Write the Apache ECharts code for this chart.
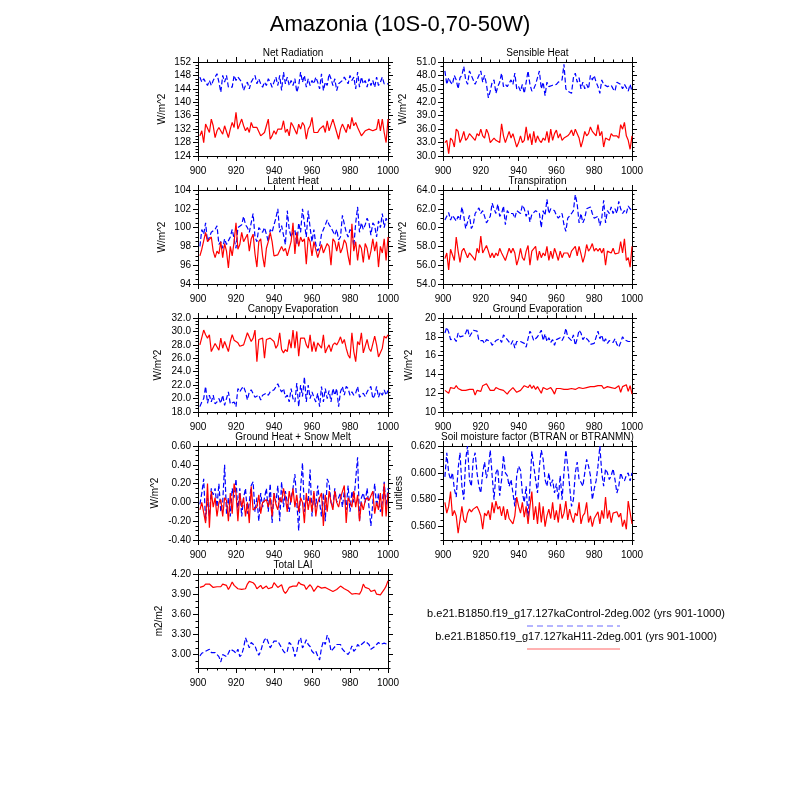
<!DOCTYPE html>
<html>
<head>
<meta charset="utf-8">
<title>Amazonia (10S-0,70-50W)</title>
<script src="https://cdn.jsdelivr.net/npm/echarts@6/dist/echarts.min.js"></script>
<style>
html, body { margin: 0; padding: 0; background: #fff; }
#main { width: 800px; height: 800px; }
</style>
</head>
<body>
<div id="main"></div>
<script>
// years 901-1000, x axis of every panel
var years = [];
for (var y = 901; y <= 1000; y++) years.push(y);

// Net Radiation (W/m^2)
var netRadH11 = [
  130, 131.5, 128, 133.5, 133, 131, 135, 133, 129.5, 131.5,
  132.5, 132, 130.5, 133, 132.5, 129.5, 132, 134, 132.5, 137,
  132, 132.5, 135, 133, 131.5, 132.5, 131, 134, 132.5, 133,
  132.5, 133, 130, 130.5, 131, 133, 135, 129, 130, 131.5,
  130.5, 132, 131.5, 132, 134.5, 131, 132, 130, 134, 133,
  133.5, 130.5, 133.5, 132, 134, 133, 129, 132, 133, 135.5,
  131, 131.5, 131, 132, 131.5, 133, 131, 134.5, 131.5, 131,
  135, 135, 131, 129, 132, 133.5, 134, 131, 133.5, 132,
  135.5, 133, 134, 132.5, 132, 130, 130.5, 131.5, 132, 132,
  132, 131.5, 131.5, 132, 135, 131.5, 135, 131, 128, 135
];
var netRadCtl = [
  147.5, 146, 147, 146, 145, 146.5, 145, 146.5, 147, 148.5,
  146, 143, 148, 146, 148, 144.5, 145, 144.5, 148, 146.5,
  147.5, 147, 146, 143.5, 145, 146, 144, 146, 147, 148,
  145.5, 147, 145.5, 144.5, 146, 145, 147, 146, 144.5, 146,
  147.5, 145, 148, 143.5, 149, 145.5, 147.5, 145, 146.5, 145,
  147, 143, 145, 149, 146, 148, 144.5, 147, 145, 146.5,
  145.5, 147.5, 146, 144, 148.5, 143.5, 146, 145, 148.5, 147,
  145, 147, 143.5, 145.5, 146, 146.5, 147.5, 146.5, 145.5, 148,
  146.5, 147.5, 144, 149, 144.5, 147.5, 145.5, 146.5, 144.5, 147,
  145, 146.5, 144.5, 147.5, 145, 146, 147.5, 145.5, 146, 145.5
];

// Sensible Heat (W/m^2)
var sensH11 = [
  33, 33.5, 30.5, 34, 33.5, 32, 36, 35.5, 33, 34,
  35.5, 33.5, 34, 35, 34.5, 34, 33.5, 35, 34.5, 36,
  34.5, 34, 36, 35, 33, 33.5, 34, 33.5, 33.8, 33,
  37.2, 34.5, 33, 32.8, 35.5, 34, 35, 33.5, 32, 33,
  34.5, 33, 33.5, 36.5, 33.5, 35, 32.5, 35.5, 33, 34.5,
  33.5, 33, 34, 33.5, 35.5, 33, 36, 33.5, 35, 35.8,
  34, 35, 33.5, 34, 34, 34.5, 35, 35.8, 34.5, 36,
  36, 34, 32, 33.5, 35.5, 34.5, 35, 36.5, 35.5, 35.5,
  34.5, 37, 34.5, 35.5, 32, 34, 34, 33.5, 35, 34.5,
  34.5, 34.5, 34, 37, 36, 37.5, 34.5, 33.5, 31.5, 34.5
];
var sensCtl = [
  49, 46, 47.5, 46.5, 46, 48, 47, 45, 47.5, 48,
  50, 47, 46, 49, 48, 47, 46, 46, 48, 49,
  46.5, 48, 46, 43, 44.5, 46.5, 47, 44, 45.5, 46.5,
  48.5, 45.5, 46, 45.5, 45.5, 47, 46, 48.5, 45, 45.5,
  44.5, 46, 44, 46.5, 49, 46, 44.5, 45, 46, 47.5,
  49, 45, 46.5, 43.5, 46.5, 45.5, 45.5, 45.8, 46, 46,
  46.5, 46.5, 47, 50.5, 45, 44.5, 44.5, 44, 47.5, 48.5,
  46.5, 47.5, 45, 46.5, 45, 46, 45, 48, 47, 48,
  46.5, 45.5, 44, 47, 46, 46, 45.5, 45.5, 45.8, 45,
  44.5, 46.5, 46.5, 46, 45, 46, 46, 44.5, 46, 44.5
];

// Latent Heat (W/m^2)
var latH11 = [
  97, 97.7, 97.8, 99.5, 98.5, 98.5, 99, 97.5, 96.8, 97.5,
  97.2, 98.5, 96.8, 98.3, 97.5, 95.7, 98, 97, 98.5, 100.5,
  97.7, 98.2, 99.5, 98.5, 98.7, 99.3, 97.5, 98.8, 99.3, 97.2,
  95.8, 98.5, 98.8, 97, 95.8, 97.8, 98.5, 99.5, 98.5, 97,
  97.2, 97.1, 97, 98, 97.5, 97.8, 97, 97.2, 98.5, 100.5,
  97.2, 99.5, 98, 99, 98.5, 98.8, 96.1, 99, 98.5, 97,
  98.5, 98.3, 96.8, 97.5, 98.2, 97.3, 97.8, 98.3, 98, 96,
  98.8, 98.5, 97.5, 98.5, 97.3, 97.8, 98.7, 98.3, 97, 96,
  100.4, 97.5, 98.5, 96.5, 98.2, 97.8, 96.3, 98.3, 97.8, 96.6,
  97.5, 98.8, 97.5, 98.5, 95.8, 98, 97.3, 98.8, 96.5, 99
];
var latCtl = [
  98, 99.8, 99.3, 100.5, 98.5, 98.7, 99.5, 99.5, 99.8, 100.2,
  98.2, 98.5, 97.8, 98.8, 98.2, 98.2, 99, 99.8, 98.8, 97.8,
  100, 99.8, 100.3, 101.2, 100.3, 100, 99.5, 100.5, 101.5, 99,
  98.5, 100, 99.8, 99.5, 100, 99.3, 98.5, 99.8, 99.5, 100.3,
  101, 102, 99.5, 100.2, 100, 98.2, 101.8, 99.8, 99, 99.5,
  99.8, 98.2, 100.5, 99.5, 102, 101.8, 99, 101.8, 100, 98.5,
  99.8, 98.2, 97.5, 98, 99.3, 99.5, 100.3, 100.8, 100.3, 100,
  99.8, 99.2, 99.8, 98.7, 99, 101.3, 101.5, 99.5, 99, 99.8,
  99.5, 98, 100.5, 102.2, 99.5, 100.5, 99.8, 100.3, 101, 100.5,
  99.2, 100.5, 100.2, 99, 100.7, 100, 101.5, 100, 101, 100.5
];

// Transpiration (W/m^2)
var trH11 = [
  56.7, 57.3, 55.5, 57.7, 57.5, 56.5, 59, 57.5, 56.3, 57.5,
  57.8, 57.3, 56.8, 57.3, 57.5, 56.8, 56.5, 57.8, 57.3, 59.1,
  57.3, 57.5, 58.1, 57.5, 56.8, 57.3, 56.8, 57.3, 57, 57.8,
  57.3, 57.5, 56.5, 56.5, 57.8, 57.3, 57.8, 57.3, 56, 56.7,
  57.8, 56.8, 56.5, 57.5, 58.1, 56, 57.5, 57.3, 58, 56.5,
  57.5, 56.8, 57.3, 57, 58, 56.5, 57.5, 56.7, 57.8, 57.2,
  56.5, 57.5, 56.8, 57.3, 57.2, 57.3, 56.8, 57.5, 57.3, 58,
  57, 58, 57.2, 56.3, 57, 58.2, 57.5, 57.8, 58.3, 57.5,
  57.8, 57.5, 57.8, 57.3, 57.8, 56, 57.5, 57.3, 57.3, 57.8,
  57.2, 57.3, 57.3, 58.5, 57.3, 58.8, 56.5, 56.8, 55.8, 58
];
var trCtl = [
  60.8, 61.2, 61.6, 60.8, 61.3, 61, 60.7, 61.2, 60.8, 62.2,
  61.2, 59.9, 60, 61.3, 59.9, 60.3, 61.5, 61.3, 62.1, 61.5,
  61.8, 61.2, 60.5, 60.7, 61.2, 62.6, 62, 61.5, 62.5, 61.2,
  61.5, 62.3, 60.3, 61.8, 61.5, 61.3, 61.5, 61, 61.8, 62,
  61.5, 62.4, 62, 61.2, 61.8, 60.6, 61.4, 61.6, 61.8, 61.8,
  61.5, 60, 61.8, 61.3, 63, 61.5, 62, 62.2, 61.8, 61.3,
  61, 60.8, 61.5, 60.3, 59.6, 61, 60.8, 61.5, 61.8, 63.5,
  62.5, 60.5, 61.5, 60.5, 61, 62, 61.8, 62.2, 61.5, 61,
  60.8, 61.2, 60.2, 61, 62.9, 60.5, 61.8, 61.5, 62.2, 61.5,
  62, 61.5, 62.8, 62, 61.5, 61.8, 61.5, 62.3, 62, 61.8
];

// Canopy Evaporation (W/m^2)
var canH11 = [
  28, 28, 30.2, 29.5, 29, 29.5, 27, 26.8, 28.2, 28,
  27.2, 29, 27.5, 28.5, 28.3, 27, 28.5, 29.5, 28.7, 28.5,
  28.3, 27.8, 28, 28, 28.2, 29.8, 29.8, 28.5, 29, 30.2,
  25.5, 28.8, 28.8, 29, 26, 28.8, 29, 29, 28.8, 28.5,
  27.5, 28, 29.8, 27.3, 26.8, 27.3, 27, 28.8, 27.5, 30.2,
  27.5, 30, 26.3, 29, 28.8, 29, 28, 27.5, 29.5, 27,
  28.5, 27, 28.3, 28.5, 27.5, 29.5, 26.8, 27.5, 28, 27,
  28, 28.3, 28, 28.5, 29.2, 28.2, 28.8, 27.5, 26.5, 26,
  29.8, 27, 25.5, 28.5, 28, 29.8, 26.8, 27.8, 28.8, 27.5,
  27, 27, 29.3, 28, 26.2, 26.2, 27.5, 29.3, 29, 29.5
];
var canCtl = [
  18.8, 19.5, 20, 21.8, 19.3, 20.5, 19.5, 20.5, 19.2, 19.5,
  20, 19.3, 20.5, 19, 20, 21, 19.2, 19.3, 19.5, 18.8,
  21.5, 21, 21.5, 21.8, 21, 19.8, 21, 21.3, 21.5, 20.2,
  20.3, 20.5, 19.8, 20.5, 20.3, 20.8, 20.5, 21, 20.8, 21.3,
  21.5, 22.2, 21.5, 21, 21.5, 20.2, 20.5, 19.5, 21.5, 20,
  19.5, 22.3, 18.8, 22, 20.3, 23.2, 19.5, 22, 20, 21,
  20.2, 19.5, 20.8, 18.8, 21.8, 19.5, 21.5, 20, 21.2, 19.5,
  21.5, 20.5, 21.5, 18.8, 21, 21.8, 20.5, 21.8, 21.5, 20.5,
  21, 20.5, 20.8, 21.8, 20.2, 20.5, 20.8, 20.3, 21, 21.5,
  21.8, 20, 20.5, 21.8, 20.2, 21, 20.5, 21.3, 20.5, 21.2
];

// Ground Evaporation (W/m^2)
var geH11 = [
  12.3, 12.5, 12.0, 12.6, 12.4, 12.5, 12.8, 12.5, 12.4, 12.3,
  12.2, 12.3, 12.3, 12.4, 12.3, 12.4, 11.8, 12.3, 12.5, 12.2,
  12.8, 12.6, 13.0, 12.9, 12.3, 12.4, 12.3, 12.6, 12.4, 12.4,
  12.6, 12.3, 12.4, 11.9, 12.2, 12.4, 12.6, 12.4, 12.1, 12.1,
  12.3, 12.1, 12.8, 12.6, 12.6, 12.9, 12.5, 12.8, 12.4, 12.7,
  12.5, 12.0, 12.6, 12.5, 12.4, 12.5, 12.6, 12.3, 11.9, 12.5,
  12.3, 12.5, 12.5, 12.4, 12.5, 12.4, 12.3, 12.5, 12.7, 12.4,
  12.5, 12.6, 12.8, 12.5, 12.7, 12.6, 12.5, 12.7, 12.6, 12.7,
  12.6, 12.8, 12.7, 12.8, 12.5, 12.4, 12.7, 12.5, 12.6, 12.5,
  12.5, 12.6, 12.8, 12.1, 12.7, 12.5, 12.9, 12.2, 12.8, 11.9
];
var geCtl = [
  18.4, 19.0, 18.5, 17.7, 17.9, 17.8, 17.5, 18.4, 18.0, 18.2,
  18.1, 18.4, 18.9, 18.0, 17.8, 18.7, 18.5, 18.6, 17.6, 17.5,
  17.6, 17.3, 17.7, 17.9, 17.5, 17.1, 17.3, 17.6, 17.5, 17.8,
  17.4, 18.2, 18.0, 17.7, 17.5, 17.2, 17.6, 16.8, 17.5, 17.3,
  17.5, 17.4, 17.3, 16.9, 17.8, 18.6, 18.2, 17.6, 17.4, 18.0,
  17.8, 18.7, 17.6, 18.3, 17.5, 17.9, 17.4, 17.7, 17.1, 17.7,
  17.5, 17.9, 17.6, 18.0, 18.9, 18.0, 17.9, 17.6, 18.2, 17.1,
  17.8, 18.7, 18.4, 17.7, 18.0, 17.8, 17.6, 17.2, 17.4, 17.3,
  17.5, 18.6, 17.8, 18.2, 17.4, 17.8, 17.3, 17.6, 17.7, 17.4,
  17.8, 17.2, 16.9, 17.4, 18.0, 17.7, 17.9, 17.5, 17.7, 17.5
];

// Ground Heat + Snow Melt (W/m^2)
var ghH11 = [
  -0.08, 0.0, -0.02, -0.22, 0.2, -0.27, 0.12, -0.05, 0.05, -0.15,
  0.0, 0.03, -0.15, 0.05, 0.02, -0.2, 0.1, -0.12, 0.2, 0.1,
  -0.2, 0.1, -0.05, 0.05, -0.15, 0.0, -0.22, 0.17, -0.08, -0.1,
  -0.05, 0.08, -0.12, 0.0, 0.0, 0.03, -0.05, 0.05, -0.15, 0.1,
  -0.02, -0.08, 0.05, 0.0, 0.15, 0.05, -0.1, 0.12, 0.0, 0.15,
  -0.05, 0.08, -0.1, 0.05, 0.0, -0.22, 0.1, -0.08, 0.05, -0.1,
  0.12, -0.15, 0.0, 0.05, 0.1, -0.25, 0.08, -0.1, 0.12, 0.0,
  -0.08, 0.12, 0.0, -0.05, 0.05, 0.05, 0.18, -0.22, 0.05, 0.0,
  -0.05, 0.12, -0.05, 0.08, -0.2, 0.0, -0.08, 0.02, 0.05, 0.02,
  0.0, 0.12, -0.12, 0.0, -0.08, 0.1, -0.15, 0.2, -0.15, 0.1
];
var ghCtl = [
  -0.02, 0.1, 0.25, -0.2, 0.05, -0.15, 0.15, 0.08, 0.15, -0.05,
  0.2, -0.1, 0.0, 0.4, -0.12, 0.05, -0.15, 0.15, 0.05, 0.25,
  -0.1, 0.15, -0.15, 0.05, 0.15, -0.12, 0.0, 0.18, 0.22, -0.1,
  0.05, -0.2, 0.1, -0.05, 0.05, 0.15, -0.1, 0.2, -0.22, 0.1,
  0.0, 0.18, -0.2, 0.22, -0.05, 0.12, 0.0, -0.1, 0.05, 0.15,
  0.3, 0.0, -0.3, 0.15, 0.42, -0.1, 0.05, 0.0, 0.35, -0.15,
  0.1, -0.05, 0.18, 0.0, -0.15, 0.1, -0.2, 0.25, 0.2, 0.0,
  -0.05, 0.15, 0.0, 0.05, 0.1, -0.05, 0.12, -0.08, 0.18, -0.1,
  0.12, 0.0, 0.25, 0.48, -0.2, 0.05, 0.1, 0.0, 0.15, -0.05,
  -0.25, 0.0, 0.2, -0.05, 0.1, -0.1, 0.0, 0.22, -0.05, 0.15
];

// Soil moisture factor (unitless)
var smH11 = [
  0.578, 0.570, 0.575, 0.586, 0.568, 0.572, 0.568, 0.555, 0.565, 0.575,
  0.565, 0.563, 0.570, 0.573, 0.571, 0.573, 0.572, 0.575, 0.572, 0.568,
  0.558, 0.570, 0.568, 0.572, 0.565, 0.578, 0.570, 0.579, 0.573, 0.575,
  0.568, 0.575, 0.565, 0.573, 0.566, 0.567, 0.562, 0.568, 0.582, 0.575,
  0.570, 0.578, 0.567, 0.575, 0.562, 0.575, 0.586, 0.565, 0.575, 0.562,
  0.578, 0.563, 0.575, 0.560, 0.568, 0.573, 0.566, 0.578, 0.565, 0.572,
  0.563, 0.577, 0.566, 0.570, 0.579, 0.565, 0.573, 0.567, 0.563, 0.570,
  0.568, 0.578, 0.562, 0.568, 0.570, 0.578, 0.563, 0.568, 0.560, 0.566,
  0.567, 0.571, 0.562, 0.572, 0.566, 0.582, 0.566, 0.572, 0.563, 0.570,
  0.570, 0.571, 0.567, 0.570, 0.560, 0.565, 0.558, 0.579, 0.578, 0.562
];
var smCtl = [
  0.597, 0.615, 0.600, 0.595, 0.600, 0.588, 0.582, 0.603, 0.615, 0.590,
  0.580, 0.610, 0.620, 0.595, 0.590, 0.610, 0.615, 0.600, 0.590, 0.585,
  0.600, 0.608, 0.596, 0.603, 0.617, 0.598, 0.580, 0.600, 0.603, 0.583,
  0.595, 0.613, 0.600, 0.598, 0.590, 0.595, 0.585, 0.575, 0.598, 0.605,
  0.602, 0.585, 0.578, 0.590, 0.565, 0.590, 0.616, 0.605, 0.595, 0.585,
  0.605, 0.617, 0.610, 0.595, 0.590, 0.600, 0.590, 0.595, 0.585, 0.592,
  0.580, 0.598, 0.580, 0.600, 0.617, 0.605, 0.590, 0.575, 0.580, 0.600,
  0.608, 0.595, 0.593, 0.590, 0.600, 0.610, 0.605, 0.598, 0.580, 0.588,
  0.594, 0.605, 0.620, 0.600, 0.590, 0.603, 0.600, 0.595, 0.598, 0.603,
  0.595, 0.585, 0.590, 0.600, 0.596, 0.594, 0.598, 0.600, 0.594, 0.600
];

// Total LAI (m2/m2)
var laiH11 = [
  4.00, 4.01, 4.02, 4.05, 4.04, 4.05, 4.07, 4.00, 3.99, 4.01,
  4.02, 4.01, 4.05, 4.04, 4.03, 3.97, 4.02, 4.08, 4.03, 4.01,
  3.98, 3.99, 3.97, 3.96, 3.98, 4.05, 4.09, 4.10, 4.07, 4.04,
  3.98, 4.00, 4.03, 3.98, 3.97, 4.02, 3.98, 3.96, 4.00, 4.07,
  4.05, 4.00, 4.01, 4.04, 3.95, 3.91, 3.95, 4.00, 4.01, 4.02,
  4.03, 4.02, 4.08, 4.05, 4.04, 4.03, 3.97, 4.01, 4.04, 4.00,
  3.94, 3.96, 4.02, 4.01, 3.99, 3.98, 4.00, 3.99, 3.97, 3.98,
  3.94, 3.95, 3.97, 3.98, 4.02, 4.01, 3.98, 3.96, 3.95, 3.93,
  3.90, 3.92, 3.91, 3.93, 3.90, 3.95, 4.05, 4.00, 4.01, 3.98,
  3.94, 3.95, 3.96, 3.90, 3.92, 3.89, 3.88, 3.97, 4.02, 4.10
];
var laiCtl = [
  2.98, 3.02, 3.00, 3.05, 3.05, 3.08, 3.03, 3.04, 3.03, 3.00,
  2.97, 2.89, 3.00, 2.98, 2.97, 3.02, 3.08, 3.10, 3.05, 3.02,
  3.08, 2.97, 3.00, 3.10, 3.25, 3.23, 3.10, 3.18, 3.20, 3.13,
  3.05, 2.99, 3.05, 3.15, 3.22, 3.25, 3.18, 3.10, 3.08, 3.20,
  3.21, 3.20, 3.20, 3.10, 3.05, 3.02, 3.05, 3.18, 3.15, 3.10,
  2.97, 3.05, 3.20, 3.25, 3.10, 3.15, 3.22, 3.15, 3.12, 3.05,
  3.02, 3.05, 2.98, 2.92, 3.10, 3.20, 3.15, 3.29, 3.22, 3.05,
  3.08, 3.10, 3.15, 3.17, 3.15, 3.08, 3.05, 3.03, 3.00, 3.05,
  3.13, 3.05, 3.08, 3.15, 3.12, 3.15, 3.15, 3.20, 3.18, 3.15,
  3.08, 3.08, 3.12, 3.15, 3.18, 3.15, 3.13, 3.17, 3.15, 3.15
];

// tick labels of each panel's y axis
var netRadTicks = [124, 128, 132, 136, 140, 144, 148, 152];
var sensTicks = [30, 33, 36, 39, 42, 45, 48, 51];
var latTicks = [94, 96, 98, 100, 102, 104];
var trTicks = [54, 56, 58, 60, 62, 64];
var canTicks = [18, 20, 22, 24, 26, 28, 30, 32];
var geTicks = [10, 12, 14, 16, 18, 20];
var ghTicks = [-0.4, -0.2, 0, 0.2, 0.4, 0.6];
var smTicks = [0.56, 0.58, 0.60, 0.62];
var laiTicks = [3.0, 3.3, 3.6, 3.9, 4.2];

var legendNames = [
  'b.e21.B1850.f19_g17.127kaControl-2deg.002 (yrs 901-1000)',
  'b.e21.B1850.f19_g17.127kaH11-2deg.001 (yrs 901-1000)'
];

// panel layout: col 0 = left, 1 = right
var panels = [
  { title: 'Net Radiation', unit: 'W/m^2', ctl: netRadCtl, h11: netRadH11, ticks: netRadTicks, min: 124, max: 152, dec: 0, minor: 1, col: 0, row: 0, gap: 31 },
  { title: 'Sensible Heat', unit: 'W/m^2', ctl: sensCtl, h11: sensH11, ticks: sensTicks, min: 30, max: 51, dec: 1, minor: 1, col: 1, row: 0, gap: 35 },
  { title: 'Latent Heat', unit: 'W/m^2', ctl: latCtl, h11: latH11, ticks: latTicks, min: 94, max: 104, dec: 0, minor: 0.5, col: 0, row: 1, gap: 31 },
  { title: 'Transpiration', unit: 'W/m^2', ctl: trCtl, h11: trH11, ticks: trTicks, min: 54, max: 64, dec: 1, minor: 0.5, col: 1, row: 1, gap: 35 },
  { title: 'Canopy Evaporation', unit: 'W/m^2', ctl: canCtl, h11: canH11, ticks: canTicks, min: 18, max: 32, dec: 1, minor: 0.5, col: 0, row: 2, gap: 35 },
  { title: 'Ground Evaporation', unit: 'W/m^2', ctl: geCtl, h11: geH11, ticks: geTicks, min: 10, max: 20, dec: 0, minor: 0.5, col: 1, row: 2, gap: 29 },
  { title: 'Ground Heat + Snow Melt', unit: 'W/m^2', ctl: ghCtl, h11: ghH11, ticks: ghTicks, min: -0.4, max: 0.6, dec: 2, minor: 0.05, col: 0, row: 3, gap: 38 },
  { title: 'Soil moisture factor (BTRAN or BTRANMN)', unit: 'unitless', ctl: smCtl, h11: smH11, ticks: smTicks, min: 0.55, max: 0.62, dec: 3, minor: 0.005, col: 1, row: 3, gap: 39 },
  { title: 'Total LAI', unit: 'm2/m2', ctl: laiCtl, h11: laiH11, ticks: laiTicks, min: 2.8, max: 4.2, dec: 2, minor: 0.1, col: 0, row: 4, gap: 34 }
];

var FONT = '"Liberation Sans", Arial, Helvetica, sans-serif';
var colLeft = [198, 443];
var colWidth = [190, 189];
var rowTop = [62, 190, 318, 446, 574];
var plotHeight = 94;
var black = { color: '#000', width: 1 };

function minorValues(min, max, step, majors) {
  var out = [];
  var n = Math.round((max - min) / step);
  for (var i = 0; i <= n; i++) {
    var v = +(min + i * step).toFixed(6);
    var isMajor = majors.some(function (m) { return Math.abs(m - v) < 1e-9; });
    if (!isMajor) out.push(v);
  }
  return out;
}

function pairs(vals) {
  return vals.map(function (v, i) { return [years[i], v]; });
}

var grids = [], xAxes = [], yAxes = [], series = [], graphics = [];

panels.forEach(function (p, i) {
  var left = colLeft[p.col], width = colWidth[p.col], top = rowTop[p.row];
  grids.push({ left: left, top: top, width: width, height: plotHeight, containLabel: false, outerBoundsMode: 'none' });

  ['bottom', 'top'].forEach(function (pos) {
    xAxes.push({
      gridIndex: i, type: 'value', position: pos,
      min: 900, max: 1000, interval: 20,
      axisLine: { show: true, onZero: false, lineStyle: black },
      axisTick: { show: true, length: 5, lineStyle: black },
      minorTick: { show: true, splitNumber: 4, length: 2.5, lineStyle: black },
      axisLabel: {
        show: pos === 'bottom', fontSize: 10, color: '#000', fontFamily: FONT, margin: 10,
        formatter: function (v) { return String(v); }
      },
      splitLine: { show: false }
    });
  });

  var minors = minorValues(p.min, p.max, p.minor, p.ticks);
  ['left', 'right'].forEach(function (pos) {
    yAxes.push({
      gridIndex: i, type: 'value', position: pos, min: p.min, max: p.max,
      name: pos === 'left' ? p.unit : '',
      nameLocation: 'middle', nameRotate: 90, nameGap: p.gap,
      nameTextStyle: { fontSize: 10, color: '#000', fontFamily: FONT },
      axisLine: { show: true, onZero: false, lineStyle: black },
      axisTick: { show: true, length: 5, customValues: p.ticks, lineStyle: black },
      axisLabel: {
        show: pos === 'left', customValues: p.ticks, fontSize: 10, color: '#000', fontFamily: FONT, margin: 7,
        formatter: function (v) { return Number(v).toFixed(p.dec); }
      },
      splitLine: { show: false }
    });
    yAxes.push({
      gridIndex: i, type: 'value', position: pos, min: p.min, max: p.max,
      axisLine: { show: false, onZero: false },
      axisTick: { show: true, length: 2.5, customValues: minors, lineStyle: black },
      axisLabel: { show: false },
      splitLine: { show: false }
    });
  });

  series.push({
    name: legendNames[0], type: 'line', xAxisIndex: 2 * i, yAxisIndex: 4 * i,
    data: pairs(p.ctl), showSymbol: false, symbol: 'none',
    lineStyle: { color: '#0000ff', width: 1.2, type: [5, 2.5] }
  });
  series.push({
    name: legendNames[1], type: 'line', xAxisIndex: 2 * i, yAxisIndex: 4 * i,
    data: pairs(p.h11), showSymbol: false, symbol: 'none',
    lineStyle: { color: '#ff0000', width: 1.2 }
  });

  graphics.push({
    type: 'text', x: left + width / 2, y: top - 9,
    style: { text: p.title, fontSize: 10, fontFamily: FONT, fill: '#000', align: 'center', verticalAlign: 'middle' }
  });
});

// legend in the empty bottom-right slot
graphics.push(
  { type: 'text', x: 576, y: 614, style: { text: legendNames[0], fontSize: 11, fontFamily: FONT, fill: '#000', align: 'center', verticalAlign: 'middle' } },
  { type: 'line', shape: { x1: 527, y1: 626, x2: 620, y2: 626 }, style: { stroke: '#6a6aff', lineWidth: 1, lineDash: [6, 4] } },
  { type: 'text', x: 576, y: 637, style: { text: legendNames[1], fontSize: 11, fontFamily: FONT, fill: '#000', align: 'center', verticalAlign: 'middle' } },
  { type: 'line', shape: { x1: 527, y1: 649, x2: 620, y2: 649 }, style: { stroke: '#ff6464', lineWidth: 1 } }
);

var myChart = echarts.init(document.getElementById('main'), null, { renderer: 'canvas' });
myChart.setOption({
  animation: false,
  backgroundColor: '#fff',
  title: {
    text: 'Amazonia (10S-0,70-50W)', left: 'center', top: 9,
    textStyle: { fontSize: 22, fontWeight: 'normal', color: '#000', fontFamily: FONT }
  },
  grid: grids,
  xAxis: xAxes,
  yAxis: yAxes,
  series: series,
  graphic: graphics
});
</script>
</body>
</html>
